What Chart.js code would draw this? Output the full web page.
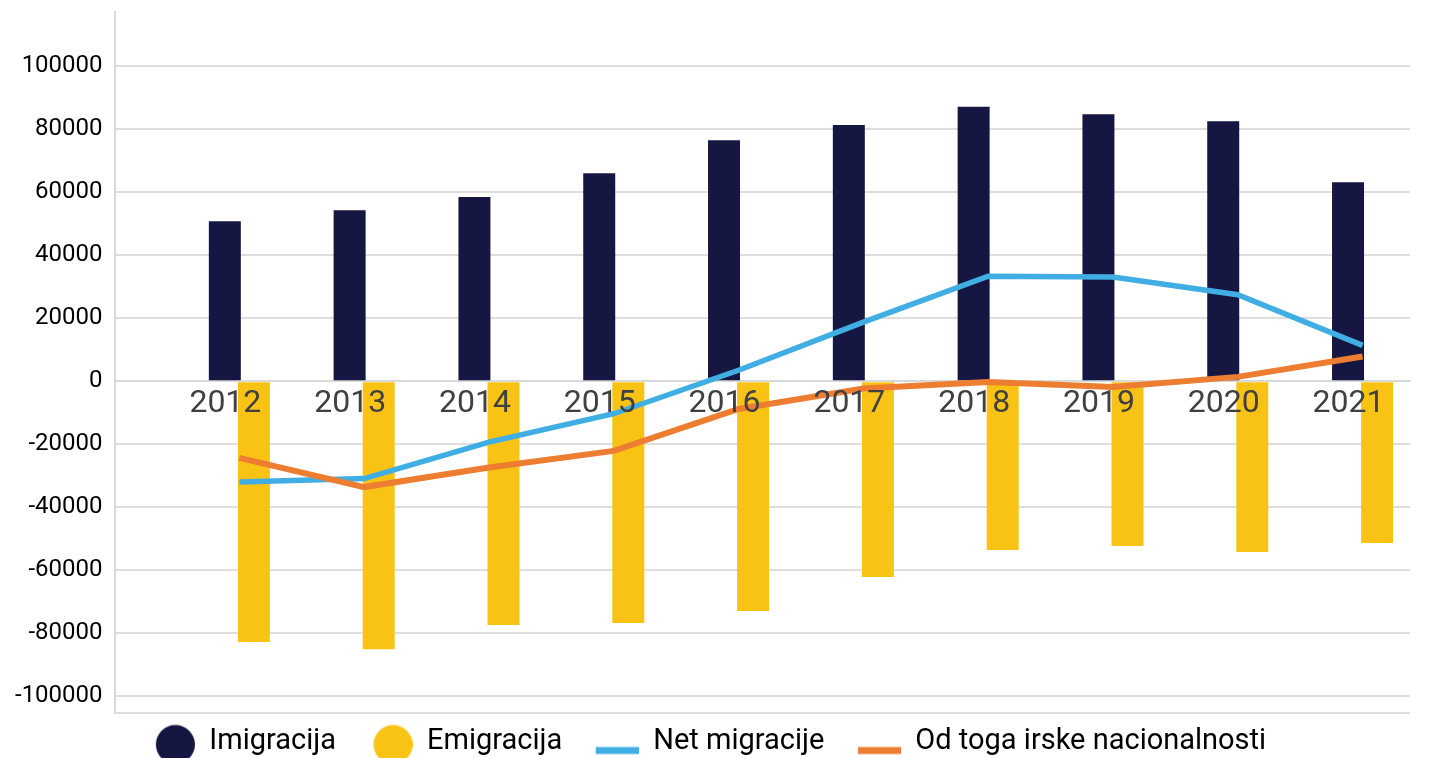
<!DOCTYPE html>
<html>
<head>
<meta charset="utf-8">
<script src="https://cdn.jsdelivr.net/npm/chart.js@4.4.0/dist/chart.umd.min.js"></script>
<style>
  html, body { margin: 0; padding: 0; background: #fff; }
  #wrap { width: 1434px; height: 758px; }
</style>
</head>
<body>
<div id="wrap"><canvas id="grafica_migracije"></canvas></div>
<script>
const godine = [2012, 2013, 2014, 2015, 2016, 2017, 2018, 2019, 2020, 2021];
const imigracija = [50800, 54300, 58500, 66100, 76600, 81400, 87200, 84800, 82600, 63200];
const emigracija = [-82800, -85100, -77400, -76800, -73000, -62200, -53600, -52300, -54200, -51400];
const netMigracije = [-32000, -30900, -19300, -10300, 3500, 18800, 33400, 33100, 27500, 11400];
const irskeNacionalnosti = [-24300, -33600, -27400, -22100, -8800, -2300, -200, -1800, 1400, 7900];
const yOznake = [-100000, -80000, -60000, -40000, -20000, 0, 20000, 40000, 60000, 80000, 100000];

const yMin = -105200;
const yMax = 117300;

// small canvases used as legend markers
function marker(kind, color) {
  const c = document.createElement('canvas');
  c.width = 62;
  c.height = 50;
  const g = c.getContext('2d');
  g.fillStyle = color;
  if (kind === 'circle') {
    g.beginPath();
    g.arc(42.5, 28, 19.5, 0, Math.PI * 2);
    g.fill();
  } else {
    g.fillRect(19, 30.5, 43, 7);
  }
  return c;
}

const ctx = document.getElementById('grafica_migracije').getContext('2d');
new Chart(ctx, {
  type: 'bar',
  data: {
    labels: godine,
    datasets: [
      {
        label: 'Imigracija',
        data: imigracija,
        backgroundColor: '#151641',
        pointStyle: marker('circle', '#151641'),
        categoryPercentage: 0.466,
        barPercentage: 1.1,
        order: 2
      },
      {
        label: 'Emigracija',
        data: emigracija,
        backgroundColor: '#F9C316',
        pointStyle: marker('circle', '#F9C316'),
        categoryPercentage: 0.466,
        barPercentage: 1.1,
        order: 2
      },
      {
        type: 'line',
        label: 'Net migracije',
        data: netMigracije,
        borderColor: '#41AEE3',
        backgroundColor: '#41AEE3',
        borderWidth: 5.5,
        pointRadius: 0,
        tension: 0,
        pointStyle: marker('line', '#41AEE3'),
        order: 1
      },
      {
        type: 'line',
        label: 'Od toga irske nacionalnosti',
        data: irskeNacionalnosti,
        borderColor: '#ED7D31',
        backgroundColor: '#ED7D31',
        borderWidth: 6,
        pointRadius: 0,
        tension: 0,
        pointStyle: marker('line', '#ED7D31'),
        order: 0
      }
    ]
  },
  options: {
    responsive: true,
    maintainAspectRatio: false,
    animation: false,
    layout: { padding: { left: -11, right: 24, top: 12, bottom: -8 } },
    plugins: {
      tooltip: { enabled: false },
      legend: {
        position: 'bottom',
        labels: {
          usePointStyle: true,
          pointStyleWidth: 62,
          padding: 14.5,
          color: '#000',
          font: { family: 'Roboto', size: 29 },
          sort: (a, b) => a.datasetIndex - b.datasetIndex
        }
      }
    },
    scales: {
      x: {
        type: 'linear',
        offset: false,
        min: 2011,
        max: 2021.38,
        position: { y: 0 },
        afterBuildTicks: s => { s.ticks = godine.map(v => ({ value: v })); },
        afterFit: s => { s.paddingLeft = 0; s.paddingRight = 0; },
        grid: { drawOnChartArea: false, drawTicks: false },
        border: { color: '#d9d9d9', width: 2 },
        ticks: {
          z: 1,
          font: { family: 'Roboto', size: 32 },
          color: '#404040',
          padding: 4,
          labelOffset: -14,
          maxRotation: 0,
          autoSkip: false,
          callback: v => String(v)
        }
      },
      y: {
        min: yMin,
        max: yMax,
        afterBuildTicks: s => { s.ticks = [yMin].concat(yOznake).map(v => ({ value: v })); },
        afterFit: s => { s.paddingTop = 0; s.paddingBottom = 0; s.width += 14; },
        grid: { color: '#dedede', lineWidth: 2, drawTicks: false },
        border: { color: '#d9d9d9', width: 2 },
        ticks: {
          font: { family: 'Roboto', size: 24 },
          color: '#000',
          padding: 12,
          callback: v => (v === yMin ? '' : String(v))
        }
      }
    }
  }
});
</script>
</body>
</html>
